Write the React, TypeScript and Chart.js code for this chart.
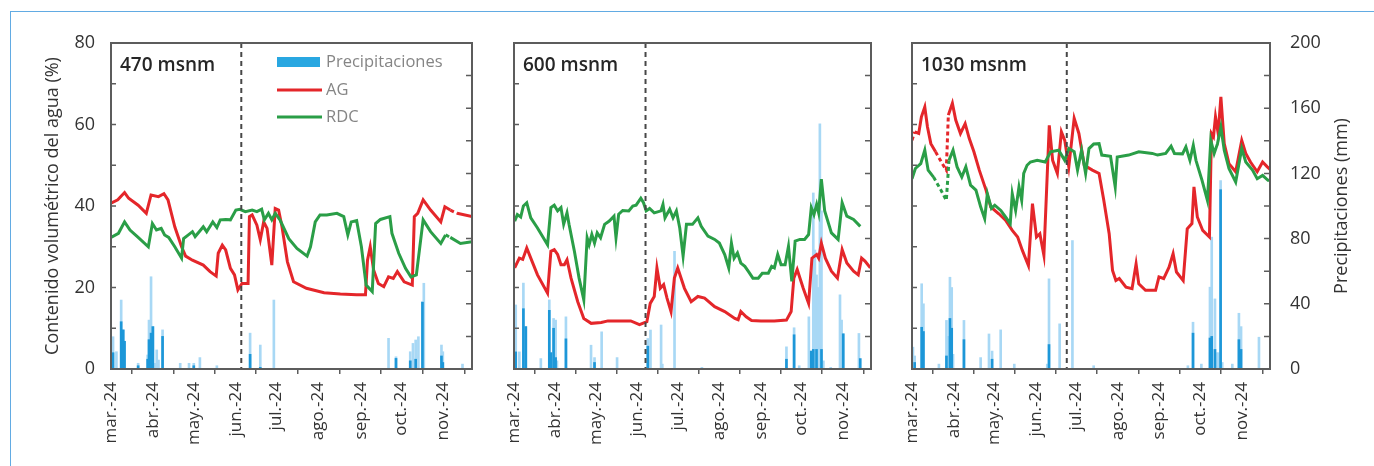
import React, { useEffect, useRef } from "react";
import { Chart, registerables } from "chart.js";

Chart.register(...registerables);

const FONT = "'Open Sans', 'Liberation Sans', Arial, sans-serif";
const RED = "#e4262a";
const GREEN = "#2a9e47";
const RAIN_LIGHT = "#a8d8f5";
const RAIN_DARK = "#1d97d8";
const FRAME = "#5c5c5c";
const TEXT = "#333333";

// ---- axes ----
const MONTH_LABELS = ["mar.-24", "abr.-24", "may.-24", "jun.-24", "jul.-24", "ago.-24", "sep.-24", "oct.-24", "nov.-24"];
const MONTH_DAYS = [0, 31, 61, 92, 122, 153, 184, 214, 245]; // days since 1 March 2024
const X_MAX = 266;
const SOIL_TICKS = [0, 20, 40, 60, 80];
const SOIL_TICK_MARKS = [0, 10, 20, 30, 40, 50, 60, 70, 80];
const RAIN_TICKS = [0, 40, 80, 120, 160, 200];
const RAIN_TICK_MARKS = [0, 20, 40, 60, 80, 100, 120, 140, 160, 180, 200];

// ---- 470 msnm ----
const P470_AG_DAY = [0, 5, 10, 13, 20, 26, 29.5, 35, 39, 42, 47, 52, 55, 60, 68, 73, 77.5, 79, 82, 84.5, 88, 91, 93.5, 96.5, 101, 102, 104, 107.5, 110, 112.5, 115, 118.5, 121, 123.5, 126, 130, 134.5, 144, 157, 169, 181, 187.5, 189, 191, 193.5, 197, 201, 204.5, 208, 211, 216, 222, 223.5, 226, 230, 235.5, 243, 246, 250, 255, 266];
const P470_AG = [40.7, 41.5, 43.3, 41.9, 40.2, 38.2, 42.7, 42.3, 43, 41.5, 34.9, 30, 27.7, 26.7, 25.5, 23.9, 22.8, 28.4, 30.4, 29.2, 24.7, 23.1, 19.4, 21, 21, 37.4, 37.8, 35.3, 31.7, 36.1, 34.5, 25.5, 39.4, 39, 34.9, 26.3, 21.4, 19.8, 18.7, 18.4, 18.2, 18.2, 26.7, 30, 24.3, 21, 20.2, 22.6, 22.2, 23.9, 21.4, 20.6, 37.4, 38.2, 41.5, 39, 36.1, 39.8, 39, 38.2, 37.4];
const P470_RDC_DAY = [0, 5.5, 10, 14, 20, 27.5, 30.5, 33.5, 37, 39.5, 42.5, 47, 52, 53.5, 57, 60, 62, 65, 68, 70.5, 75, 78, 80.5, 84.5, 88, 92, 95, 99, 104, 107.5, 111, 113, 116, 118.5, 121, 124.5, 131, 137, 144.5, 147, 150.5, 154, 159, 166.5, 171.5, 174.5, 177, 181, 184.5, 188, 192.5, 195, 198.5, 205.5, 207, 212, 217, 221, 225, 230, 235.5, 243, 246.5, 250, 257.5, 266];
const P470_RDC = [32.3, 33.3, 36.1, 34.1, 32.3, 30, 35.7, 34.1, 34.5, 32.9, 32.3, 30, 27.2, 32, 32.9, 33.7, 32.5, 33.7, 34.9, 33.7, 36.1, 34.7, 36.6, 36.7, 36.6, 39, 39.2, 38.6, 39, 38.6, 39.2, 36.6, 38.2, 36.6, 38.2, 36.6, 32, 29.6, 27.7, 30, 36.1, 37.8, 37.8, 38.2, 37.4, 32.9, 36.1, 36.4, 30, 20.6, 19, 35.7, 36.7, 37.4, 33.3, 28.4, 24.7, 22.6, 23.1, 36.6, 33.7, 30.8, 32.9, 32.3, 30.8, 31.2];
const P470_RAIN_LIGHT_DAY = [1.5, 4, 7.5, 9, 20, 27, 28, 29.5, 31, 32.5, 33.7, 35, 38, 51, 57.5, 61, 65.5, 78, 102.5, 110, 120, 204.5, 210, 220.5, 222.5, 224.5, 226.5, 229.5, 230.5, 243.5, 244.5, 259];
const P470_RAIN_LIGHT = [19.8, 10.6, 42.3, 24, 3.5, 8.6, 30, 56.6, 26, 3.5, 11.7, 5.5, 24, 3.5, 3.5, 3.5, 7, 2, 22, 14.7, 42.3, 18.8, 7.5, 10.6, 15.7, 17.8, 19.8, 41.3, 52.6, 14.7, 10.6, 3];
const P470_RAIN_DARK_DAY = [1.5, 7.5, 9, 10, 20, 27, 28, 29.5, 30.8, 38, 61, 102.5, 110, 210, 220.5, 224.5, 229.5, 243.5, 244.5];
const P470_RAIN_DARK = [10, 29, 24, 17, 2, 6, 18, 22, 26, 20, 2, 9, 1, 6.5, 5, 6, 41, 8, 4];

// ---- 600 msnm ----
const P600_AG_DAY = [0.5, 4, 6.5, 9.5, 12.5, 17.5, 25, 27.5, 30, 32.5, 35, 37.5, 39.5, 42.5, 47.5, 52, 57.5, 65, 70, 80, 87, 93.5, 99, 101.5, 104.5, 106.5, 109, 111.5, 114, 117, 119.5, 122, 127, 132, 137, 142, 149.5, 157, 164.5, 167, 169, 173, 177, 184, 194, 203, 206.5, 208.5, 211, 215.5, 219.5, 222, 225.5, 227, 229, 232, 236.5, 241, 244.5, 248, 253, 256.5, 259, 261.5, 265.5];
const P600_AG = [24.8, 27.2, 26.9, 29.7, 27.2, 23.1, 18.6, 28.9, 29.3, 28.1, 25.6, 25.6, 26.8, 22.3, 16.5, 12.4, 11.2, 11.4, 11.8, 11.8, 11.8, 10.9, 11.6, 16.1, 17.8, 24.8, 19.8, 20.7, 17.4, 14.1, 22.3, 24.8, 19.8, 16.5, 17.8, 17.4, 15.3, 14.1, 12.4, 12.1, 14.1, 12.8, 11.9, 11.8, 11.8, 12, 14.1, 22.3, 24.4, 19.8, 16.1, 27.2, 28.1, 27.2, 30.9, 27.2, 24, 22.3, 29.3, 26, 24, 23.1, 27.2, 26.5, 24.8];
const P600_RDC_DAY = [0.5, 2.5, 5, 7, 9.5, 12.5, 17.5, 25, 27.5, 30, 32.5, 35, 37, 39.5, 41, 45, 48.5, 52, 54.5, 56, 58, 60, 62, 64.5, 67.5, 71, 74.5, 76, 78, 81, 85.5, 88.5, 91, 94.5, 96.5, 98.5, 101, 104.5, 109.5, 111, 112.5, 116, 118.5, 121, 123.5, 126, 128.5, 133, 137, 139.5, 144.5, 149.5, 153, 157, 160, 162, 164, 166.5, 169, 172, 174.5, 178, 182, 185, 189.5, 192, 194, 196.5, 199, 202, 204.5, 207, 209.5, 213, 216.5, 219.5, 221.5, 223.5, 225.5, 227, 229, 231.5, 236.5, 241.5, 244.5, 248, 253, 258];
const P600_RDC = [36.3, 37.9, 37.3, 40, 40.8, 37.1, 34.6, 30.5, 39.6, 40.2, 38.8, 39.6, 35.5, 38.3, 35.5, 28.9, 22.3, 17, 32.2, 30.5, 33, 30.9, 33.4, 32.2, 35.5, 36.3, 37.5, 32.2, 38, 38.9, 38.8, 40, 40.2, 41.9, 40.8, 38.8, 39.4, 38.3, 38.8, 40.4, 37.1, 39.2, 37.1, 38.8, 34.6, 27.7, 35.5, 35.5, 37.1, 35, 32.6, 31.8, 30.9, 28.1, 24.8, 30.9, 27.2, 28.5, 26, 25.2, 24, 22.3, 22.3, 23.5, 23.5, 25.2, 24.8, 28.1, 25.6, 25.6, 30.1, 21.5, 31.4, 31.8, 31.8, 33, 39.6, 37.9, 40.4, 38.3, 46.6, 38.8, 33.4, 31.8, 40.8, 37.5, 36.7, 35];
const P600_RAIN_LIGHT_DAY = [1.3, 4, 7, 8.8, 20, 26.3, 27.5, 29.5, 31, 32, 38.7, 57.4, 60, 65.3, 76.8, 99.7, 101.7, 109.6, 110.5, 119.6, 140, 203, 208.7, 212.5, 219.7, 221.5, 223, 224.2, 225.4, 226.5, 227.9, 229.1, 230.5, 236, 242.9, 244.1, 245.3, 257];
const P600_RAIN_LIGHT = [39.3, 10.5, 52.7, 26, 6.4, 42.4, 10, 31, 30, 5, 32, 14.6, 7, 22.8, 7, 18.7, 23.9, 27, 3, 72.2, 1, 13.6, 25.3, 2, 32, 11, 108, 73, 57.7, 50, 150.4, 97, 5, 1, 45.5, 30, 21.6, 21.8];
const P600_RAIN_DARK_DAY = [1.3, 7, 8.8, 26.3, 27.5, 29.5, 31, 38.7, 60, 99.7, 203, 208.7, 221.5, 223, 225.4, 229.1, 245.3, 258];
const P600_RAIN_DARK = [10.5, 37, 26, 36, 10, 25, 7, 18.5, 4, 14, 6, 21, 11, 12, 12, 12, 21.6, 6.4];

// ---- 1030 msnm ----
const P1030_AG_DAY = [0, 2, 5, 7, 9.5, 11.5, 14, 17.5, 22.5, 25.5, 27, 30, 32.5, 36, 39.5, 42.5, 46, 50, 55, 58.5, 64.5, 69.5, 74.5, 78.5, 82, 86.5, 89.5, 92.5, 95, 98, 102, 104.5, 108, 111, 113.5, 116.5, 120.5, 124, 128, 134, 139, 142.5, 146.5, 149, 151.5, 154, 159, 163.5, 166.5, 168.5, 173.5, 181, 183.5, 187, 191, 194, 196.5, 201.5, 204.5, 208, 209.5, 212, 216, 221, 222.5, 224, 225.5, 227.5, 229.5, 232, 235.5, 240.5, 245, 248, 251.5, 256.5, 260.5, 264, 266];
const P1030_AG = [56.1, 58.2, 57.8, 61.9, 64.3, 59.4, 55.3, 53.3, 50.4, 48.8, 62.3, 65.2, 61.1, 57.8, 60.2, 56.6, 53.3, 48.8, 43.9, 39.8, 38.1, 36.5, 34, 32.4, 29.1, 25.4, 40.6, 32.4, 33.2, 27.9, 59.8, 51.2, 48, 58.2, 56.1, 49.6, 61.5, 57.8, 50, 48.8, 48, 41.4, 33.2, 24.2, 21.7, 22.2, 20.1, 19.7, 25.8, 20.9, 19.3, 19.3, 22.6, 22.2, 25, 28.3, 23.8, 21.7, 34.4, 35.7, 44.7, 37.3, 34, 32.4, 57.8, 57, 61.9, 57.8, 66.8, 55.3, 50.4, 48.4, 56.1, 52.9, 50.8, 48.4, 50.8, 49.6, 49];
const P1030_RDC_DAY = [0, 2.5, 6.5, 9.5, 12, 16, 21.5, 25.5, 27.5, 30.5, 33.5, 37, 40, 43.5, 47.5, 51, 54, 56, 59, 61.5, 66, 69.5, 73, 74.5, 77, 79.5, 81.5, 83, 85.5, 88, 93, 99, 103, 109, 113.5, 116.5, 120.5, 123, 126, 129, 131.5, 135, 139, 141, 147.5, 151, 152.5, 161, 168.5, 178.5, 182.5, 188.5, 192.5, 195, 201, 203.5, 206.5, 209, 211, 215.5, 219.5, 222, 224.5, 227, 229.5, 232, 235.5, 240.5, 245, 248, 253, 256.5, 260.5, 264.5, 266];
const P1030_RDC = [46.7, 49.2, 50.4, 53.7, 48.8, 47.1, 43.9, 41.4, 51.2, 53.7, 49.6, 47.1, 49.6, 45.1, 43.9, 39.8, 36.9, 43, 39.4, 40.2, 38.9, 37.3, 35.7, 43, 38.9, 44.7, 41.4, 48, 50, 50.8, 51.2, 50.8, 53.3, 53.7, 51.2, 54.1, 53.3, 48.8, 53.7, 48, 54.1, 55.2, 55.3, 52.5, 52.2, 44.7, 52, 52.5, 53.3, 52.9, 52.5, 52.9, 54.7, 52.9, 52.8, 54.5, 51.2, 54.9, 51.2, 46.3, 41.4, 56.1, 52.9, 55.3, 59.4, 53.7, 49.2, 45.9, 54.1, 50.8, 48.8, 46.7, 47.5, 46.3, 46.3];
const P1030_RAIN_LIGHT_DAY = [0.7, 2, 7.2, 8.5, 20, 25.6, 27, 28.2, 29.5, 30.5, 38.6, 51, 57.2, 59.5, 65.9, 76, 100.5, 101.8, 109.7, 119.2, 135, 205, 208.8, 215, 221.4, 222.7, 225.1, 226.5, 228, 229.3, 230.5, 238, 242.9, 244.5, 257.8];
const P1030_RAIN_LIGHT = [13.4, 8, 52.3, 40, 3, 29.8, 20, 56.3, 50, 9, 29.8, 7, 21.5, 11, 24, 3, 3, 55.3, 27.7, 78.8, 2, 2, 28.7, 3, 50.2, 80.9, 43, 10, 10, 115.6, 4, 3, 34.2, 26, 19.5];
const P1030_RAIN_DARK_DAY = [2, 7.2, 8.5, 25.6, 28.2, 29.5, 38.6, 59.5, 101.8, 208.8, 221.4, 222.7, 225.1, 229.3, 242.9, 244.5];
const P1030_RAIN_DARK = [4, 25.6, 23, 8, 31, 25, 18, 6, 15, 22, 19, 20, 12, 110, 18, 12];

type Range = [number, number];
type PanelDef = {
  title: string;
  left: number;
  width: number;
  yWidth: number;
  ypWidth: number;
  showLeft: boolean;
  showRight: boolean;
  legend: boolean;
  markDay: number;
  agDay: number[];
  ag: number[];
  rdcDay: number[];
  rdc: number[];
  lightDay: number[];
  light: number[];
  darkDay: number[];
  dark: number[];
  agDash: Range[];
  rdcDash: Range[];
};

const PANELS: PanelDef[] = [
  {
    title: "470 msnm", left: 0, width: 480, yWidth: 111, ypWidth: 8,
    showLeft: true, showRight: false, legend: true, markDay: 96,
    agDay: P470_AG_DAY, ag: P470_AG, rdcDay: P470_RDC_DAY, rdc: P470_RDC,
    lightDay: P470_RAIN_LIGHT_DAY, light: P470_RAIN_LIGHT, darkDay: P470_RAIN_DARK_DAY, dark: P470_RAIN_DARK,
    agDash: [[250, 255]], rdcDash: [[246.5, 250]],
  },
  {
    title: "600 msnm", left: 480, width: 400, yWidth: 34, ypWidth: 9,
    showLeft: false, showRight: false, legend: false, markDay: 98,
    agDay: P600_AG_DAY, ag: P600_AG, rdcDay: P600_RDC_DAY, rdc: P600_RDC,
    lightDay: P600_RAIN_LIGHT_DAY, light: P600_RAIN_LIGHT, darkDay: P600_RAIN_DARK_DAY, dark: P600_RAIN_DARK,
    agDash: [], rdcDash: [],
  },
  {
    title: "1030 msnm", left: 880, width: 494, yWidth: 32, ypWidth: 104,
    showLeft: false, showRight: true, legend: false, markDay: 115,
    agDay: P1030_AG_DAY, ag: P1030_AG, rdcDay: P1030_RDC_DAY, rdc: P1030_RDC,
    lightDay: P1030_RAIN_LIGHT_DAY, light: P1030_RAIN_LIGHT, darkDay: P1030_RAIN_DARK_DAY, dark: P1030_RAIN_DARK,
    agDash: [[0, 2], [17.5, 27]], rdcDash: [[16, 27.5]],
  },
];

const HEIGHT = 466;
const PLOT_TOP = 43;
const PLOT_BOTTOM = 369;

const pts = (xs: number[], ys: number[]) => xs.map((x, i) => ({ x, y: ys[i] }));
const inRanges = (v: number, r: Range[]) => r.some(([a, b]) => v >= a && v < b);

function Panel({ def }: { def: PanelDef }) {
  const ref = useRef<HTMLCanvasElement>(null);
  useEffect(() => {
    const canvas = ref.current!;
    const decor = {
      id: "decor",
      afterDatasetsDraw(chart: any) {
        const { ctx, chartArea: a, scales } = chart;
        const xs = scales.x, ys = scales.y, yp = scales.yP;
        ctx.save();
        // dashed marker line
        const mx = xs.getPixelForValue(def.markDay);
        ctx.strokeStyle = "#474747";
        ctx.lineWidth = 2;
        ctx.setLineDash([5, 4]);
        ctx.beginPath();
        ctx.moveTo(mx, a.top);
        ctx.lineTo(mx, a.bottom);
        ctx.stroke();
        ctx.setLineDash([]);
        // frame
        ctx.strokeStyle = FRAME;
        ctx.lineWidth = 2;
        ctx.strokeRect(a.left, a.top, a.right - a.left, a.bottom - a.top);
        // inward ticks
        ctx.lineWidth = 1.5;
        ctx.beginPath();
        SOIL_TICK_MARKS.forEach((v) => {
          const py = ys.getPixelForValue(v);
          ctx.moveTo(a.left, py);
          ctx.lineTo(a.left + 5, py);
        });
        RAIN_TICK_MARKS.forEach((v) => {
          const py = yp.getPixelForValue(v);
          ctx.moveTo(a.right - 6, py);
          ctx.lineTo(a.right, py);
        });
        ctx.stroke();
        // panel title
        ctx.fillStyle = "#262626";
        ctx.font = `600 19px ${FONT}`;
        ctx.textBaseline = "middle";
        ctx.textAlign = "left";
        ctx.fillText(def.title, a.left + 9, 66);
        // legend
        if (def.legend) {
          const lx = a.left + 166;
          ctx.fillStyle = "#29a7e1";
          ctx.fillRect(lx, 57, 43, 10);
          ctx.lineWidth = 3;
          ctx.strokeStyle = RED;
          ctx.beginPath();
          ctx.moveTo(lx, 90);
          ctx.lineTo(lx + 45, 90);
          ctx.stroke();
          ctx.strokeStyle = GREEN;
          ctx.beginPath();
          ctx.moveTo(lx, 117);
          ctx.lineTo(lx + 45, 117);
          ctx.stroke();
          ctx.fillStyle = "#858585";
          ctx.font = `16.5px ${FONT}`;
          ctx.fillText("Precipitaciones", lx + 49, 62);
          ctx.fillText("AG", lx + 49, 90);
          ctx.fillText("RDC", lx + 49, 117);
        }
        // right axis title
        if (def.showRight) {
          ctx.save();
          ctx.translate(a.right + 72, (a.top + a.bottom) / 2);
          ctx.rotate(-Math.PI / 2);
          ctx.fillStyle = TEXT;
          ctx.font = `18px ${FONT}`;
          ctx.textAlign = "center";
          ctx.textBaseline = "middle";
          ctx.fillText("Precipitaciones (mm)", 0, 0);
          ctx.restore();
        }
        ctx.restore();
      },
    };

    const chart = new Chart(canvas, {
      type: "line",
      data: {
        datasets: [
          {
            type: "line",
            label: "RDC",
            data: pts(def.rdcDay, def.rdc),
            borderColor: GREEN,
            borderWidth: 3,
            pointRadius: 0,
            tension: 0,
            yAxisID: "y",
            order: 1,
            segment: { borderDash: (c: any) => (inRanges(c.p0.parsed.x, def.rdcDash) ? [4, 3] : undefined) },
          },
          {
            type: "line",
            label: "AG",
            data: pts(def.agDay, def.ag),
            borderColor: RED,
            borderWidth: 3,
            pointRadius: 0,
            tension: 0,
            yAxisID: "y",
            order: 2,
            segment: { borderDash: (c: any) => (inRanges(c.p0.parsed.x, def.agDash) ? [4, 3] : undefined) },
          },
          {
            type: "bar",
            label: "Precipitaciones",
            data: pts(def.darkDay, def.dark),
            backgroundColor: RAIN_DARK,
            barThickness: 2,
            grouped: false,
            yAxisID: "yP",
            order: 3,
          },
          {
            type: "bar",
            label: "Precipitaciones (b)",
            data: pts(def.lightDay, def.light),
            backgroundColor: RAIN_LIGHT,
            barThickness: 2,
            grouped: false,
            yAxisID: "yP",
            order: 4,
          },
        ] as any,
      },
      options: {
        responsive: false,
        animation: false,
        layout: { padding: { top: PLOT_TOP, left: 0, right: 0, bottom: 0 } },
        plugins: { legend: { display: false }, tooltip: { enabled: false } },
        scales: {
          x: {
            type: "linear",
            min: 0,
            max: X_MAX,
            offset: false,
            afterBuildTicks: (s: any) => {
              s.ticks = MONTH_DAYS.map((v) => ({ value: v }));
            },
            afterFit: (s: any) => {
              s.height = HEIGHT - PLOT_BOTTOM;
            },
            ticks: {
              autoSkip: false,
              minRotation: 90,
              maxRotation: 90,
              padding: 8,
              color: TEXT,
              font: { family: FONT, size: 17 },
              callback: (v: any) => {
                const i = MONTH_DAYS.indexOf(Number(v));
                return i >= 0 ? MONTH_LABELS[i] : "";
              },
            },
            grid: { display: true, drawOnChartArea: false, drawTicks: true, tickLength: 5, color: FRAME, lineWidth: 1.5 },
            border: { display: false },
          },
          y: {
            type: "linear",
            position: "left",
            min: 0,
            max: 80,
            afterBuildTicks: (s: any) => {
              s.ticks = SOIL_TICKS.map((v) => ({ value: v }));
            },
            afterFit: (s: any) => {
              s.width = def.yWidth;
            },
            ticks: { display: def.showLeft, padding: 16, color: TEXT, font: { family: FONT, size: 18 } },
            grid: { display: false, drawTicks: false },
            border: { display: false },
            title: {
              display: def.showLeft,
              text: "Contenido volumétrico del agua (%)",
              color: TEXT,
              font: { family: FONT, size: 18 },
              padding: { top: 42, bottom: 0 },
            },
          },
          yP: {
            type: "linear",
            position: "right",
            min: 0,
            max: 200,
            afterBuildTicks: (s: any) => {
              s.ticks = RAIN_TICKS.map((v) => ({ value: v }));
            },
            afterFit: (s: any) => {
              s.width = def.ypWidth;
            },
            ticks: { display: def.showRight, padding: 20, color: TEXT, font: { family: FONT, size: 18 } },
            grid: { display: false, drawTicks: false },
            border: { display: false },
          },
        },
      } as any,
      plugins: [decor],
    });
    return () => chart.destroy();
  }, [def]);
  return (
    <canvas
      ref={ref}
      width={def.width}
      height={HEIGHT}
      style={{ position: "absolute", left: def.left, top: 0, width: def.width, height: HEIGHT }}
    />
  );
}

export default function App() {
  return (
    <div style={{ position: "fixed", left: 0, top: 0, width: 1374, height: 466, background: "#ffffff", overflow: "hidden" }}>
      <div
        style={{
          position: "absolute",
          left: 10,
          top: 11,
          width: 1374,
          height: 470,
          borderTop: "1.5px solid #62abe3",
          borderLeft: "1.5px solid #62abe3",
        }}
      />
      {PANELS.map((p) => (
        <Panel key={p.title} def={p} />
      ))}
    </div>
  );
}
